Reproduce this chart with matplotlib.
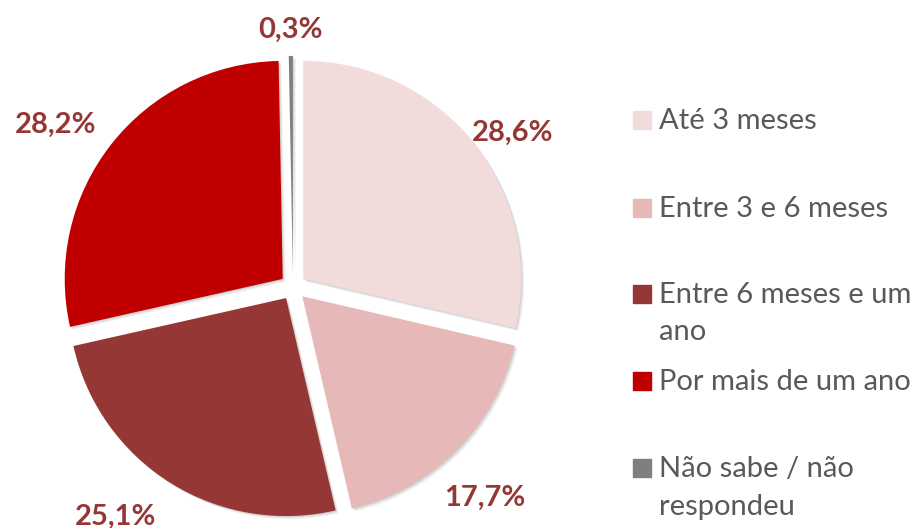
import matplotlib.pyplot as plt
import numpy as np
from matplotlib.patches import Rectangle, Wedge

categories = ["Até 3 meses", "Entre 3 e 6 meses", "Entre 6 meses e um\nano",
              "Por mais de um ano", "Não sabe / não\nrespondeu"]
values = [28.6, 17.7, 25.1, 28.2, 0.3]
colors = ["#F2DCDB", "#E6B9B8", "#953735", "#C00000", "#7F7F7F"]

plt.rcParams['font.family'] = ['Lato', 'DejaVu Sans']

W, H = 919, 528
fig = plt.figure(figsize=(W / 100, H / 100), dpi=100)

# pie: centre (293, 287) px from top, radius 218 px
R = 218
cx, cy = 293, H - 287
lim = 1.3
side = 2 * lim * R
ax = fig.add_axes([(cx - side / 2) / W, (cy - side / 2) / H, side / W, side / H])

wedges, _ = ax.pie(values, colors=colors, startangle=90, counterclock=False,
                   explode=[0.06] * len(values), wedgeprops=dict(linewidth=0))
ax.set_xlim(-lim, lim)
ax.set_ylim(-lim, lim)
ax.set_aspect('equal')
ax.axis('off')

# faint soft shadow under each slice
for w in wedges:
    for k, a in [(3, 0.05), (2, 0.06), (1, 0.07)]:
        sh = Wedge((w.center[0] + k / R, w.center[1] - k / R), w.r,
                   w.theta1, w.theta2, color='black', alpha=a, lw=0,
                   zorder=w.get_zorder() - 0.1)
        ax.add_patch(sh)

# labels: nearest corner of the text box touches a point just outside the rim,
# with small pixel nudges where Excel pulled them in
d = 1.145
label_shift = [(-17, -9), (-25, -21), (-4, -5), (0, 0), (0, 0)]
for w, v, (dx, dy) in zip(wedges, values, label_shift):
    ang = np.deg2rad((w.theta1 + w.theta2) / 2)
    c, s = np.cos(ang), np.sin(ang)
    ha = 'center' if abs(c) < 0.1 else ('left' if c > 0 else 'right')
    va = 'baseline' if s > 0 else 'top'
    ax.text(d * c + dx / R, d * s + dy / R, f"{v:.1f}%".replace('.', ','),
            ha=ha, va=va, fontsize=21, fontweight='bold',
            color="#953735", clip_on=False)

# legend drawn by hand so the square sits on the first line
leg_base = [129, 217, 303, 390, 477]
line_gap = 37.5
for lab, col, yb in zip(categories, colors, leg_base):
    fig.patches.append(Rectangle((633 / W, (H - yb) / H), 18 / W, 18 / H,
                                 transform=fig.transFigure, color=col))
    for i, line in enumerate(lab.split('\n')):
        fig.text(659 / W, (H - yb - i * line_gap) / H, line, ha='left',
                 va='baseline', fontsize=21, color="#595959")

fig.savefig("out.png", dpi=100)
